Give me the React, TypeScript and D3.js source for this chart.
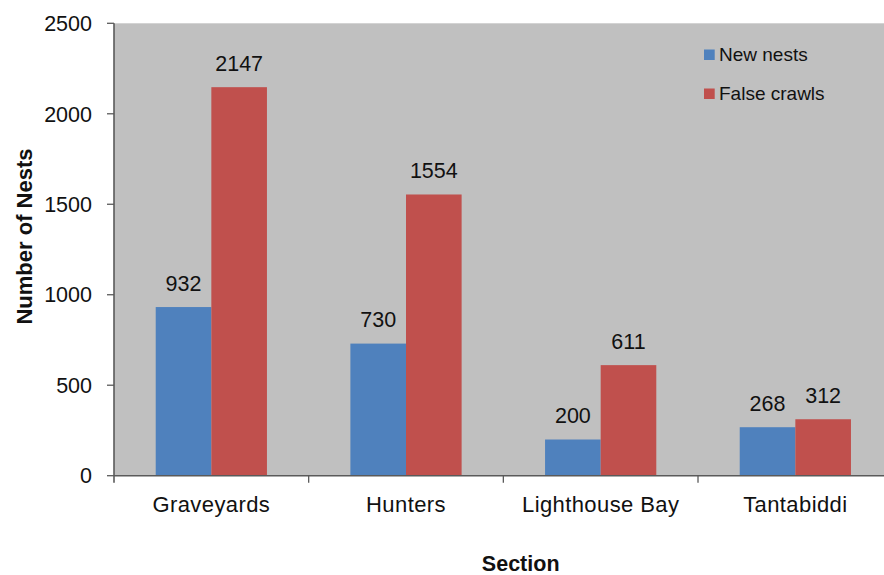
import React from "react";
import * as d3 from "d3";

const categories = ["Graveyards", "Hunters", "Lighthouse Bay", "Tantabiddi"];
const seriesNames = ["New nests", "False crawls"];
const newNests = [932, 730, 200, 268];
const falseCrawls = [2147, 1554, 611, 312];
const yTicks = [0, 500, 1000, 1500, 2000, 2500];
const seriesColors = ["#4F81BD", "#C0504D"];

const W = 884;
const H = 575;
const left = 114;
const top = 23.3;
const bottom = 475.7;
const right = 114 + 4 * 194.67;
const FONT = "Arial, 'Liberation Sans', sans-serif";
const AXIS = "#5a5a5a";

export default function App() {
  const x0 = d3.scaleBand<string>().domain(categories).range([left, right]).paddingInner(0).paddingOuter(0);
  const x1 = d3.scaleBand<string>().domain(seriesNames).range([0, x0.bandwidth()]).paddingInner(0).paddingOuter(0.75);
  const y = d3.scaleLinear().domain([0, 2500]).range([bottom, top]);
  const values = [newNests, falseCrawls];

  return (
    <svg width={W} height={H} style={{ position: "absolute", left: 0, top: 0, background: "#fff" }} fontFamily={FONT}>
      <rect x={left} y={top} width={right - left} height={bottom - top} fill="#C0C0C0" />
      {categories.map((c, i) =>
        seriesNames.map((s, j) => {
          const v = values[j][i];
          const bx = (x0(c) ?? 0) + (x1(s) ?? 0);
          return (
            <g key={c + s}>
              <rect x={bx} y={y(v)} width={x1.bandwidth()} height={bottom - y(v)} fill={seriesColors[j]} />
              <text x={bx + x1.bandwidth() / 2} y={y(v) - 16.5} textAnchor="middle" fontSize={21.5} fill="#111">
                {v}
              </text>
            </g>
          );
        })
      )}
      {/* y axis */}
      <line x1={left} x2={left} y1={top} y2={bottom + 7} stroke={AXIS} strokeWidth={1.6} />
      {yTicks.map((t) => (
        <g key={t}>
          <line x1={left - 7} x2={left} y1={y(t)} y2={y(t)} stroke={AXIS} strokeWidth={1.3} />
          <text x={92} y={y(t)} dy="0.36em" textAnchor="end" fontSize={21.5} fill="#111">
            {t}
          </text>
        </g>
      ))}
      {/* x axis */}
      <line x1={left} x2={right} y1={bottom} y2={bottom} stroke={AXIS} strokeWidth={1.6} />
      {categories.map((c, i) => (
        <g key={c}>
          {i > 0 && <line x1={x0(c)} x2={x0(c)} y1={bottom} y2={bottom + 7} stroke={AXIS} strokeWidth={1.3} />}
          <text x={(x0(c) ?? 0) + x0.bandwidth() / 2} y={512.3} textAnchor="middle" fontSize={22} letterSpacing={0.4} fill="#111">
            {c}
          </text>
        </g>
      ))}
      {/* legend */}
      {seriesNames.map((s, j) => (
        <g key={s}>
          <rect x={704} y={49.5 + j * 39} width={10.7} height={10.5} fill={seriesColors[j]} />
          <text x={719} y={61 + j * 39.3} fontSize={19} fill="#111">
            {s}
          </text>
        </g>
      ))}
      {/* axis titles */}
      <text x={520.7} y={571} textAnchor="middle" fontSize={21.5} fontWeight="bold" fill="#111">
        Section
      </text>
      <text transform={`translate(32,236.5) rotate(-90)`} textAnchor="middle" fontSize={22} fontWeight="bold" fill="#111">
        Number of Nests
      </text>
    </svg>
  );
}
